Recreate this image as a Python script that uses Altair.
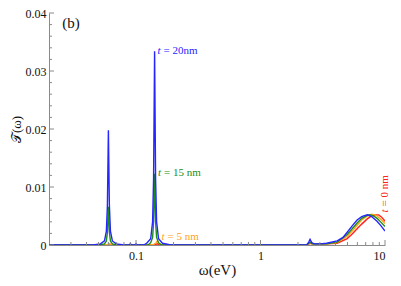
import altair as alt
import pandas as pd

# ---- data ----
blue_x = [0.02, 0.045, 0.0518, 0.0558, 0.0578, 0.0589, 0.060, 0.0611, 0.0623, 0.0646, 0.0695, 0.08,
          0.088, 0.09, 0.092, 0.098, 0.10, 0.102, 0.115, 0.1218, 0.1312, 0.1359, 0.1384, 0.141, 0.1436,
          0.1463, 0.1517, 0.1632, 0.19, 0.5, 1.5, 2.35, 2.44, 2.50, 2.58, 2.7, 3.0, 3.4, 4.13, 4.6,
          4.97, 5.45, 5.97, 6.5, 7.2, 7.8, 8.63, 9.3, 10.0]
blue_y = [0.0, 0.0, 0.0002, 0.0007, 0.0024, 0.0068, 0.0198, 0.0068, 0.0024, 0.0007, 0.0002, 0.0,
          0.0, 0.0002, 0.0, 0.0, 0.0002, 0.0, 0.0, 0.0003, 0.0011, 0.004, 0.0115, 0.0334, 0.0115,
          0.004, 0.0011, 0.0003, 0.0, 0.0, 0.0, 0.0, 0.0005, 0.00097, 0.0004, 0.0002, 0.0002, 0.0003, 0.0007, 0.0013,
          0.0022, 0.0033, 0.0043, 0.0049, 0.0052, 0.0049, 0.0041, 0.0033, 0.0024]

green_x = [0.02, 0.05, 0.0558, 0.0578, 0.0589, 0.060, 0.0611, 0.0623, 0.0646, 0.07, 0.125, 0.1312,
           0.1359, 0.1384, 0.141, 0.1436, 0.1463, 0.1517, 0.16, 0.5, 2.35, 2.50, 2.6, 3.4, 4.13,
           4.97, 5.45, 5.97, 6.5, 7.2, 7.5, 8.1, 8.63, 9.3, 10.0]
green_y = [0.0, 0.0, 0.0002, 0.0007, 0.0022, 0.0066, 0.0022, 0.0007, 0.0002, 0.0, 0.0, 0.0004,
           0.0013, 0.004, 0.0123, 0.004, 0.0013, 0.0004, 0.0, 0.0, 0.0, 0.0005, 0.0002, 0.0002, 0.0005,
           0.0018, 0.0028, 0.0038, 0.0046, 0.0051, 0.0052, 0.0050, 0.0046, 0.0039, 0.0032]

orange_x = [0.02, 0.055, 0.0589, 0.061, 0.0635, 0.068, 0.13, 0.1384, 0.144, 0.148, 0.152, 0.158,
            0.17, 0.5, 2.35, 2.50, 2.6, 3.4, 4.13, 4.97, 5.45, 5.97, 6.5, 7.2, 7.8, 8.3, 8.63,
            9.3, 10.0]
orange_y = [0.0, 0.0, 0.0001, 0.0002, 0.0001, 0.0, 0.0, 0.0001, 0.0003, 0.0007, 0.0003, 0.0001,
            0.0, 0.0, 0.0, 0.0004, 0.0002, 0.0002, 0.0004, 0.0015, 0.0024, 0.0034, 0.0043, 0.0050, 0.0053,
            0.0052, 0.0050, 0.0044, 0.0037]

red_x = [0.02, 0.058, 0.0615, 0.065, 0.14, 0.148, 0.156, 0.5, 2.35, 2.50, 2.6, 3.4, 4.13, 4.97,
         5.45, 5.97, 6.5, 7.2, 7.8, 8.4, 8.9, 9.4, 10.0]
red_y = [0.0, 0.0, 0.0001, 0.0, 0.0, 0.0002, 0.0, 0.0, 0.0, 0.0003, 0.0002, 0.0002, 0.0003, 0.0011,
         0.0019, 0.0028, 0.0036, 0.0045, 0.0050, 0.0052, 0.0052, 0.0048, 0.0041]

y_major = [0, 0.01, 0.02, 0.03, 0.04]
y_minor = [0.002, 0.004, 0.006, 0.008, 0.012, 0.014, 0.016, 0.018, 0.022, 0.024, 0.026, 0.028,
           0.032, 0.034, 0.036, 0.038]
x_major = [0.1, 1, 10]
x_minor = [0.03, 0.04, 0.05, 0.06, 0.07, 0.08, 0.09, 0.2, 0.3, 0.4, 0.5, 0.6, 0.7, 0.8, 0.9,
           2, 3, 4, 5, 6, 7, 8, 9]

BLUE, GREEN, ORANGE, RED = "#2525ff", "#1a8c1a", "#ffa31a", "#ff2020"
GRAY = "#8a8a8a"
FONT = "Liberation Serif, Times New Roman, serif"
W, H = 336, 232

xscale = alt.Scale(type="log", domain=[0.02, 10], nice=False)
yscale = alt.Scale(domain=[0, 0.04], nice=False)

xaxis = alt.Axis(values=x_major, format="~g", ticks=False, grid=False, title="ω(eV)",
                 domainColor=GRAY, labelFont=FONT, labelFontSize=12, labelColor="#111",
                 labelPadding=5, titleFont=FONT, titleFontSize=15, titleFontWeight="normal",
                 titleColor="#111", titlePadding=1)
yaxis = alt.Axis(values=y_major, format="~g", ticks=False, grid=False, title="𝒯(ω)",
                 domainColor=GRAY, labelFont=FONT, labelFontSize=12, labelColor="#111",
                 labelPadding=3, titleFont=FONT, titleFontSize=13, titleFontWeight="normal",
                 titleColor="#111", titlePadding=2)


def series_layer(xs, ys, color):
    df = pd.DataFrame({"w": xs, "T": ys})
    return alt.Chart(df).mark_line(color=color, strokeWidth=1.4, clip=True).encode(
        x=alt.X("w:Q", scale=xscale, axis=xaxis),
        y=alt.Y("T:Q", scale=yscale, axis=yaxis))


def tick_rules(vals, axis, length):
    df = pd.DataFrame({"v": vals})
    base = alt.Chart(df).mark_rule(color=GRAY, strokeWidth=1)
    if axis == "y":
        return base.encode(y=alt.Y("v:Q", scale=yscale, axis=yaxis), x=alt.value(0), x2=alt.value(length))
    return base.encode(x=alt.X("v:Q", scale=xscale, axis=xaxis), y=alt.value(H), y2=alt.value(H - length))


def label(x, y, rest, color, angle=0, size=11):
    t = alt.Chart().mark_text(text="t", fontStyle="italic", font=FONT, fontSize=size, color=color,
                              align="left", baseline="middle", angle=angle).encode(
        x=alt.datum(x, scale=xscale, axis=xaxis), y=alt.datum(y, scale=yscale, axis=yaxis))
    r = alt.Chart().mark_text(text=rest, font=FONT, fontSize=size, color=color, align="left",
                              baseline="middle", angle=angle, dx=6).encode(
        x=alt.datum(x, scale=xscale, axis=xaxis), y=alt.datum(y, scale=yscale, axis=yaxis))
    return [t, r]


layers = [
    series_layer(red_x, red_y, RED),
    series_layer(orange_x, orange_y, ORANGE),
    series_layer(green_x, green_y, GREEN),
    series_layer(blue_x, blue_y, BLUE),
    tick_rules(y_major, "y", 5),
    tick_rules(y_minor, "y", 3),
    tick_rules(x_major, "x", 5),
    tick_rules(x_minor, "x", 3),
]
layers += label(0.149, 0.0335, "= 20nm", BLUE)
layers += label(0.150, 0.0124, "= 15 nm", GREEN)
layers += label(0.160, 0.00135, "= 5 nm", ORANGE)
layers += label(10.0, 0.0056, "= 0 nm", RED, angle=270)
layers.append(
    alt.Chart().mark_text(text="(b)", font=FONT, fontSize=15, color="#111", align="left",
                          baseline="middle").encode(
        x=alt.datum(0.0255, scale=xscale, axis=xaxis), y=alt.datum(0.0383, scale=yscale, axis=yaxis))
)

chart = alt.layer(*layers).properties(
    width=W, height=H,
    autosize=alt.AutoSizeParams(type="none"),
    padding={"left": 41, "top": 5, "right": 8, "bottom": 33},
).configure_view(stroke=None)

chart.save("out.html", embed_options={"renderer": "svg", "actions": False})
